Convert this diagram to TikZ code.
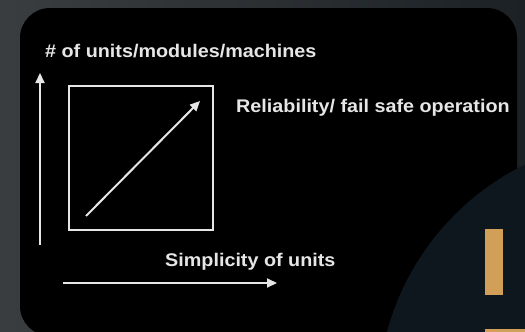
\documentclass[tikz,border=0pt]{standalone}
\usepackage{fontspec}
\setmainfont{Liberation Sans}
\newfontfamily\labelfont[FakeStretch=1.08]{Liberation Sans}
\usetikzlibrary{arrows.meta}

\definecolor{bgrey}{HTML}{1C2125}
\definecolor{navy}{HTML}{0D171D}
\definecolor{gold}{HTML}{D29F58}
\definecolor{chalk}{HTML}{E6E6E6}

\tikzset{
  axis/.style={chalk, line width=2pt, -{Triangle[length=10pt,width=9pt]}},
  label/.style={text=chalk, font=\labelfont\bfseries\fontsize{18.3}{21}\selectfont, inner sep=0pt}
}

\begin{document}
\begin{tikzpicture}[x=1pt,y=-1pt]
      \useasboundingbox (0,0) rectangle (525,332);
      % backdrop and panel
      \shade[left color=bgrey!70!gray, right color=bgrey] (0,0) rectangle (525,332);
      \fill[black, rounded corners=30pt] (20,8) rectangle (517,336);
      \begin{scope}
        \clip (0,0) rectangle (525,332);
        \fill[navy] (640,400) circle (262);
      \end{scope}
      \fill[gold] (485,229) rectangle (503,295);
      \fill[gold] (485,329) rectangle (525,332);
      % labels
      \node[label, anchor=base west] (units) at (45,57) {\# of units/modules/machines};
      \node[label, anchor=base west] (rely) at (236,112) {Reliability/ fail safe operation};
      \node[label, anchor=base west] (simple) at (165,266) {Simplicity of units};
      % box and arrows
      \node[draw=chalk, line width=2pt, minimum width=144pt, minimum height=144pt, inner sep=0pt] (box) at (141,158) {};
      \coordinate (ybot) at (40,245);
      \coordinate (ytop) at (40,73);
      \coordinate (xleft) at (63,283);
      \coordinate (xright) at (277,283);
      \coordinate (dlow) at (86,216);
      \coordinate (dhigh) at (200,101);
      \draw[axis] (ybot) -- (ytop);
      \draw[axis] (xleft) -- (xright);
      \draw[axis] (dlow) -- (dhigh);
\end{tikzpicture}
\end{document}
